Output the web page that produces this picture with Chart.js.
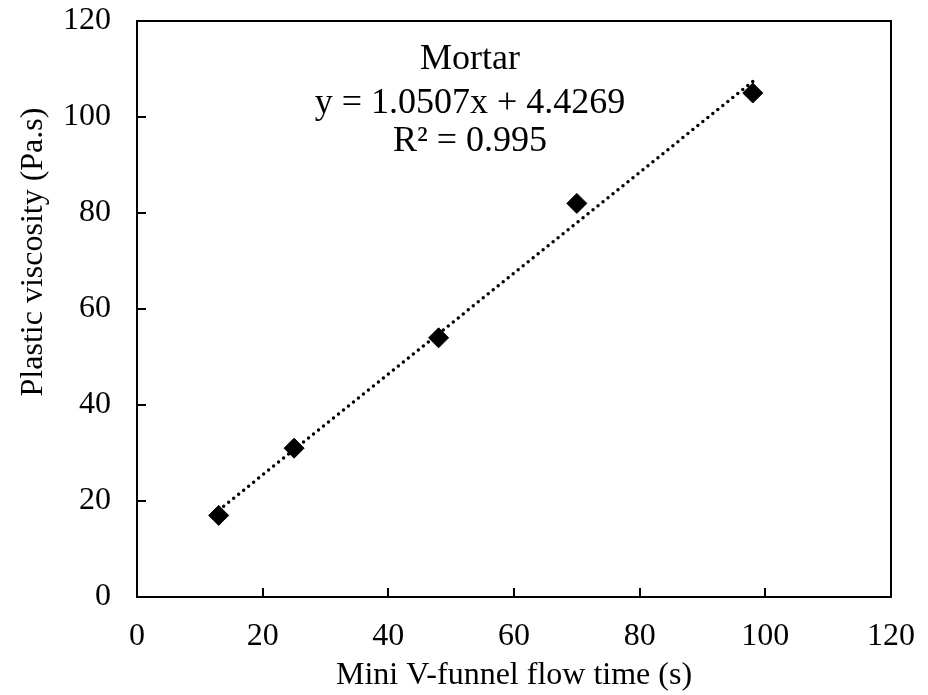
<!DOCTYPE html>
<html><head><meta charset="utf-8">
<script src="https://cdn.jsdelivr.net/npm/chart.js@4"></script>
<style>html,body{margin:0;padding:0;background:#fff}#wrap{width:928px;height:695px}</style>
</head><body><div id="wrap"><canvas id="c" width="928" height="695"></canvas></div>
<script>
// ---- data ----
const flowTime = [13, 25, 48, 70, 98];          // Mini V-funnel flow time (s)
const viscosity = [17, 31, 54, 82, 105];        // Plastic viscosity (Pa.s)
const trendX = [13, 98];                        // linear trendline ends
const trendY = [18.09, 107.39];
const xTicks = [0, 20, 40, 60, 80, 100, 120];
const yTicks = [0, 20, 40, 60, 80, 100, 120];
const annotationLines = ['Mortar', 'y = 1.0507x + 4.4269', 'R\u00b2 = 0.995'];
const xTitle = 'Mini V-funnel flow time (s)';
const yTitle = 'Plastic viscosity (Pa.s)';

const FONT = "'Liberation Serif', 'Times New Roman', serif";

const frame = {
  id: 'frame',
  afterDatasetsDraw(chart) {
    const {ctx, chartArea: a, scales} = chart;
    ctx.save();
    ctx.strokeStyle = '#000';
    ctx.lineWidth = 2;
    ctx.strokeRect(a.left, a.top, a.right - a.left, a.bottom - a.top);
    ctx.beginPath();
    scales.x.ticks.forEach(t => {
      const px = Math.round(scales.x.getPixelForValue(t.value));
      ctx.moveTo(px, a.bottom); ctx.lineTo(px, a.bottom - 9);
    });
    scales.y.ticks.forEach(t => {
      const py = Math.round(scales.y.getPixelForValue(t.value));
      ctx.moveTo(a.left, py); ctx.lineTo(a.left + 9, py);
    });
    ctx.stroke();
    ctx.restore();
  },
  afterDraw(chart) {
    const {ctx} = chart;
    ctx.save();
    ctx.fillStyle = '#000';
    ctx.font = '36px ' + FONT;
    ctx.textAlign = 'center';
    ctx.textBaseline = 'alphabetic';
    const base = [69, 113, 151];
    annotationLines.forEach((s, i) => ctx.fillText(s, 470, base[i]));
    // y-axis title (placed as in the reference, above the plot centre)
    ctx.font = '32px ' + FONT;
    ctx.translate(42, 252);
    ctx.rotate(-Math.PI / 2);
    ctx.fillText(yTitle, 0, 0);
    ctx.restore();
  }
};

new Chart(document.getElementById('c'), {
  type: 'scatter',
  data: {
    datasets: [
      {
        label: 'Mortar',
        data: flowTime.map((x, i) => ({x, y: viscosity[i]})),
        pointStyle: 'rectRot',
        pointRadius: 10,
        pointHoverRadius: 10,
        backgroundColor: '#000',
        borderColor: '#000',
        borderWidth: 1,
        showLine: false
      },
      {
        label: 'Linear',
        data: trendX.map((x, i) => ({x, y: trendY[i]})),
        showLine: true,
        pointRadius: 0,
        borderColor: '#000',
        borderWidth: 3.5,
        borderDash: [0, 6.4],
        borderCapStyle: 'round',
        fill: false
      }
    ]
  },
  options: {
    responsive: false,
    animation: false,
    devicePixelRatio: 1,
    layout: {padding: {top: 21, right: 37, left: 0, bottom: 0}},
    plugins: {legend: {display: false}, tooltip: {enabled: false}},
    scales: {
      x: {
        type: 'linear', min: 0, max: 120,
        afterBuildTicks: s => { s.ticks = xTicks.map(v => ({value: v})); },
        afterFit: s => { s.height = 98; s.paddingLeft = 0; s.paddingRight = 0; },
        grid: {display: false, drawTicks: false},
        border: {display: false},
        ticks: {color: '#000', font: {family: FONT, size: 32}, padding: 20, maxRotation: 0},
        title: {display: true, text: xTitle, color: '#000', font: {family: FONT, size: 32}, padding: {top: 0, bottom: 0}}
      },
      y: {
        type: 'linear', min: 0, max: 120,
        afterBuildTicks: s => { s.ticks = yTicks.map(v => ({value: v})); },
        afterFit: s => { s.width = 137; s.paddingTop = 0; s.paddingBottom = 0; },
        grid: {display: false, drawTicks: false},
        border: {display: false},
        ticks: {color: '#000', font: {family: FONT, size: 32}, padding: 26},
        title: {display: false}
      }
    }
  },
  plugins: [frame]
});
</script>
</body></html>
